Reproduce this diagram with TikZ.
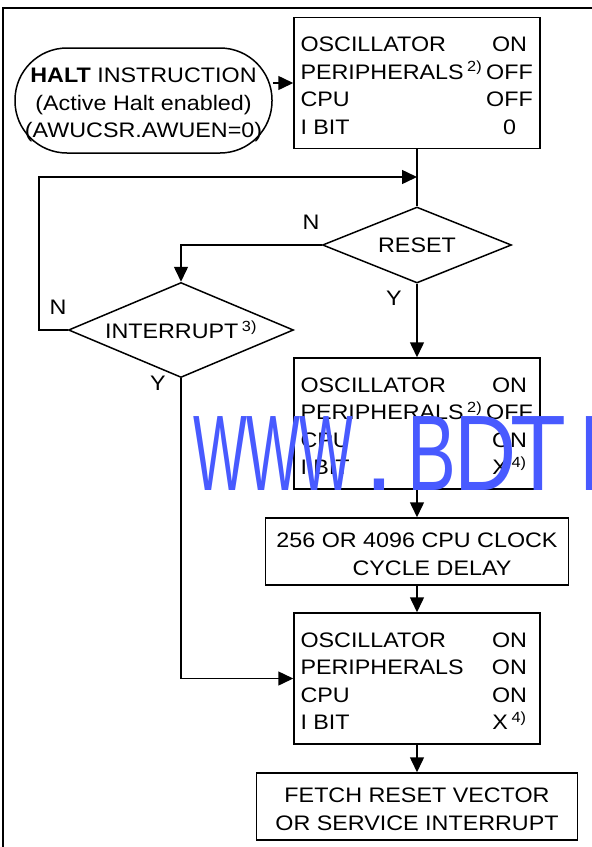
\documentclass[tikz,border=0pt]{standalone}
\usepackage{fontspec}
\setmainfont[FakeStretch=1.11]{Liberation Sans}
\newfontfamily\wmfont{Liberation Sans}
\usepackage{array}
\usepackage{graphicx}
\usetikzlibrary{arrows.meta,shapes.geometric}
\definecolor{wmblue}{RGB}{72,90,255}

\newcolumntype{V}{>{\centering\arraybackslash}p{48pt}}
% one watermark letter in a fixed cell
\newcommand{\wml}[2]{\makebox[53pt]{\scalebox{#1}[1]{#2}}}

\tikzset{
  basefont/.style={font=\fontsize{21}{27.5}\selectfont, inner sep=0pt},
  txt/.style={basefont, text height=28pt},
  statebox/.style={txt, draw, minimum width=246pt, minimum height=131pt},
  stepbox/.style={txt, draw, minimum width=303pt, minimum height=67pt},
  haltbox/.style={txt, draw, rounded corners=52pt, minimum width=257pt, minimum height=105pt},
  decision/.style={basefont, draw, diamond, shape aspect=2.4},
  lbl/.style={basefont},
  wmark/.style={inner sep=0pt, text=wmblue, font=\wmfont\fontsize{107.5}{110}\selectfont}
}

\begin{document}
\begin{tikzpicture}[x=1pt,y=-1pt,line width=1.5pt,
    >={Triangle[length=15pt,width=14pt]}]
  \useasboundingbox (0,0) rectangle (592,847);
  % outer frame
  \draw[line width=2pt] (3,850) -- (3,8) -- (600,8);

  \node[haltbox] (halt) at (143.5,100.5)
    {\begin{tabular}[t]{@{}c@{}}\textbf{HALT} INSTRUCTION\\(Active Halt enabled)\\(AWUCSR.AWUEN=0)\end{tabular}};
  \node[statebox] (act) at (417,83)
    {\begin{tabular}[t]{@{}p{185pt}@{}V@{}}OSCILLATOR & ON\\PERIPHERALS\,\textsuperscript{2)} & OFF\\CPU & OFF\\I BIT & 0\end{tabular}};
  \node[decision, minimum width=189pt, minimum height=76pt] (reset) at (417,245) {RESET};
  \node[decision, minimum width=225pt, minimum height=95pt] (intr) at (181,330) {INTERRUPT\,\textsuperscript{3)}};
  \node[statebox] (wake) at (417,423.5)
    {\begin{tabular}[t]{@{}p{185pt}@{}V@{}}OSCILLATOR & ON\\PERIPHERALS\,\textsuperscript{2)} & OFF\\CPU & ON\\I BIT & X\,\textsuperscript{4)}\end{tabular}};
  \node[stepbox] (delay) at (417,551.5)
    {\begin{tabular}[t]{@{}c@{}}256 OR 4096 CPU CLOCK\\\hspace*{30pt}CYCLE DELAY\end{tabular}};
  \node[statebox] (run) at (417,678.5)
    {\begin{tabular}[t]{@{}p{185pt}@{}V@{}}OSCILLATOR & ON\\PERIPHERALS & ON\\CPU & ON\\I BIT & X\,\textsuperscript{4)}\end{tabular}};
  \node[stepbox, minimum width=321pt] (fetch) at (417,806.5)
    {\begin{tabular}[t]{@{}c@{}}FETCH RESET VECTOR\\OR SERVICE INTERRUPT\end{tabular}};

  \coordinate (back) at (417,177);

  % connectors
  \draw[->] (halt.east |- act.west) -- (act.west);
  \draw (act.south) -- (reset.north);
  \draw[->] (reset.west) -| (intr.north);
  \draw[->] (intr.west) -- ++(-29,0) |- (back);
  \draw[->] (reset.south) -- (wake.north);
  \draw[->] (wake.south) -- (delay.north);
  \draw[->] (delay.south) -- (run.north);
  \draw[->] (intr.south) |- (run.west);
  \draw[->] (run.south) -- (fetch.north);

  % branch labels
  \node[lbl] (nreset) at (311,222) {N};
  \node[lbl] (yreset) at (394,298) {Y};
  \node[lbl] (nintr) at (58,307) {N};
  \node[lbl] (yintr) at (158,383) {Y};

  \node[wmark, anchor=base west] (wm) at (193,490)
    {\wml{0.53}{W}\wml{0.53}{W}\wml{0.53}{W}\wml{1}{.}\wml{0.68}{B}\wml{0.8}{D}\wml{0.85}{T}\wml{1}{I}};
\end{tikzpicture}
\end{document}
